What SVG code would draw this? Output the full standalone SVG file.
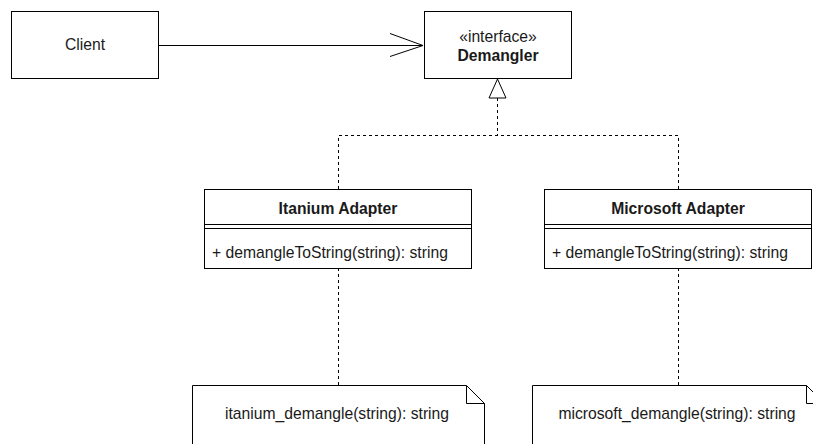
<svg xmlns="http://www.w3.org/2000/svg" width="813" height="444" viewBox="0 0 813 444">
<defs>
<style>
.box{fill:#fff;stroke:#000;stroke-width:1}
.t{font-family:"Liberation Sans",Arial,sans-serif;font-size:15.7px;fill:#1a1a1a;text-anchor:middle}
.b{font-weight:bold}
.l{text-anchor:start}
.c{fill:none;stroke:#000;stroke-width:1}
.d{stroke-dasharray:3 3}
</style>
</defs>
<rect width="813" height="444" fill="#fff"/>
<g id="connectors">
<line class="c" x1="158" y1="45.5" x2="423" y2="45.5"/>
<polyline class="c" points="390,33.5 423,45.5 390,56.5"/>
<polyline class="c d" points="497.5,98 497.5,135.5"/>
<polyline class="c d" points="338.5,189 338.5,135.5 678.5,135.5 678.5,189"/>
<polygon class="c" points="497.5,79 489,98 506,98" style="fill:#fff"/>
<line class="c d" x1="338.5" y1="268" x2="338.5" y2="385"/>
<line class="c d" x1="678.5" y1="268" x2="678.5" y2="385"/>
</g>
<g id="client">
<rect class="box" x="11.5" y="11.5" width="147" height="67"/>
<text class="t" x="85" y="50">Client</text>
</g>
<g id="demangler">
<rect class="box" x="424.5" y="11.5" width="147" height="67"/>
<text class="t" x="498" y="41.5">«interface»</text>
<text class="t b" x="498" y="60.5">Demangler</text>
</g>
<g id="itanium">
<rect class="box" x="204.5" y="189.5" width="267" height="79"/>
<line class="c" x1="204.5" y1="224.5" x2="471.5" y2="224.5"/>
<line class="c" x1="204.5" y1="228.5" x2="471.5" y2="228.5"/>
<text class="t b" x="338" y="214">Itanium Adapter</text>
<text class="t l" x="212" y="258">+ demangleToString(string): string</text>
</g>
<g id="microsoft">
<rect class="box" x="544.5" y="189.5" width="267" height="79"/>
<line class="c" x1="544.5" y1="224.5" x2="811.5" y2="224.5"/>
<line class="c" x1="544.5" y1="228.5" x2="811.5" y2="228.5"/>
<text class="t b" x="678" y="214">Microsoft Adapter</text>
<text class="t l" x="552" y="258">+ demangleToString(string): string</text>
</g>
<g id="itanium-note">
<path class="box" d="M192.5,385.5 H466.5 L484.5,403.5 V450 H192.5 Z"/>
<path class="c" d="M466.5,385.5 V403.5 H484.5"/>
<text class="t" x="337" y="418.5">itanium_demangle(string): string</text>
</g>
<g id="microsoft-note">
<path class="box" d="M532.5,385.5 H806.5 L824.5,403.5 V450 H532.5 Z"/>
<path class="c" d="M806.5,385.5 V403.5 H824.5"/>
<text class="t" x="677" y="418.5">microsoft_demangle(string): string</text>
</g>
</svg>
